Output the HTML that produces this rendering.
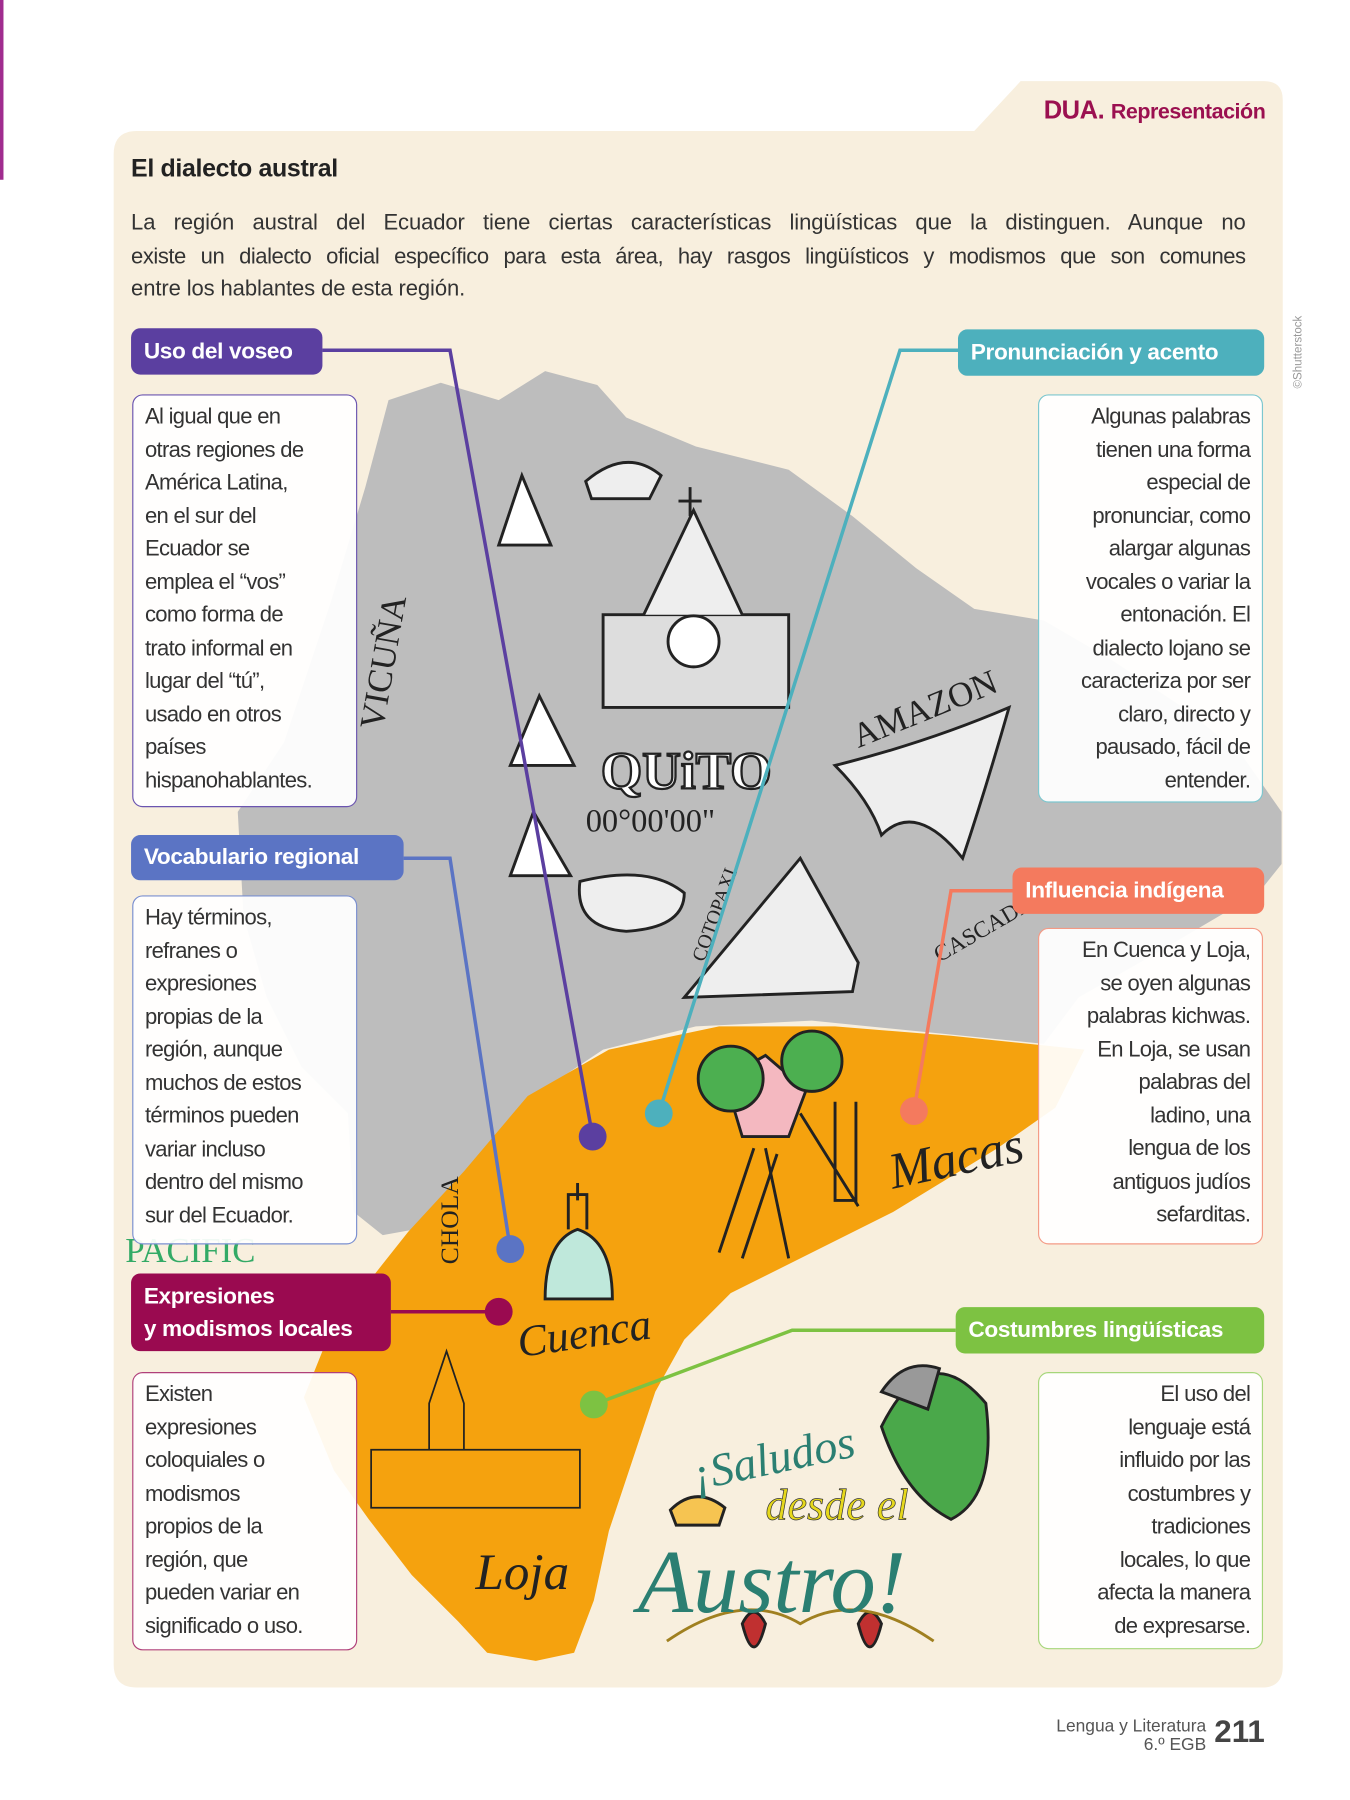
<!DOCTYPE html>
<html><head><meta charset="utf-8"><style>
*{margin:0;padding:0;box-sizing:border-box}
body{width:1350px;height:1800px;background:#fff;overflow:hidden;font-family:"Liberation Sans",sans-serif}
#w{position:absolute;left:0;top:0;width:1164px;height:1552px;transform:scale(1.1598);transform-origin:0 0}
.a{position:absolute}
.lbl{position:absolute;color:#fff;font-weight:bold;font-size:19.5px;border-radius:8px;padding:0 11px;display:flex;align-items:center;letter-spacing:-0.3px}
.box{position:absolute;background:rgba(255,255,255,.93);border:1.3px solid;border-radius:9px;font-size:19px;line-height:28.5px;color:#333;padding:5px 10px;white-space:nowrap;letter-spacing:-0.6px}
.r{text-align:right}
.pl{font-size:19px;line-height:28.5px;color:#333;text-align:justify;text-align-last:justify;width:961px;white-space:nowrap;letter-spacing:-0.1px}
</style></head><body><div id="w">
<div class="a" style="left:0;top:0;width:3px;height:155px;background:#a02c8f"></div>
<svg class="a" style="left:0;top:0" width="1164" height="1552">
<path d="M118 113 H840 L880 70 H1090 Q1106 70 1106 86 V1437 Q1106 1455 1088 1455 H118 Q98 1455 98 1435 V133 Q98 113 118 113Z" fill="#f8efde"/>
<path d="M205 700 L245 640 L285 520 L315 420 L335 345 L380 330 L430 345 L470 320 L515 332 L540 360 L600 385 L680 405 L735 445 L790 490 L840 525 L900 535 L960 570 L1020 610 L1070 650 L1105 700 L1105 745 L1085 770 L1000 820 L930 860 L900 900 L800 890 L700 880 L600 885 L520 905 L460 945 L420 1000 L385 1055 L330 1065 L305 1045 L300 960 L260 920 L230 860 L210 790Z" fill="#bdbdbd"/>
<path d="M455 945 L525 905 L620 885 L720 885 L820 893 L935 905 L910 955 L860 990 L770 1045 L690 1085 L630 1115 L590 1155 L565 1200 L545 1260 L525 1320 L512 1380 L495 1425 L462 1432 L420 1425 L395 1398 L355 1358 L318 1310 L288 1268 L262 1205 L280 1160 L318 1105 L352 1062 L400 1010Z" fill="#f5a20e"/>
<g fill="none" stroke="#222" stroke-width="2.5">
<path d="M430 470 L450 410 L475 470Z" fill="#fff"/>
<path d="M505 415 Q540 385 570 410 L560 430 L510 430Z" fill="#eee"/>
<path d="M520 610 V530 H680 V610Z" fill="#ddd"/>
<path d="M555 530 L598 440 L640 530" fill="#eee"/>
<circle cx="598" cy="553" r="22" fill="#fff"/>
<path d="M595 420 V445 M585 432 H605"/>
<path d="M590 860 L690 740 L740 830 L735 855Z" fill="#eee"/>
<path d="M440 755 L460 700 L492 755Z" fill="#fff"/>
<path d="M440 660 L465 600 L495 660Z" fill="#fff"/>
<path d="M500 760 Q560 745 590 770 Q590 800 540 803 Q495 800 500 760Z" fill="#eee"/>
<path d="M720 660 Q800 640 870 610 Q850 680 830 740 Q790 690 760 720 Q750 690 720 660Z" fill="#eee"/>
<path d="M470 1120 Q470 1070 498 1060 Q528 1070 528 1120Z" fill="#bfe8db"/>
<path d="M490 1060 V1030 H506 V1060 M498 1020 V1035"/>
<path d="M625 930 L660 910 L695 940 L680 980 L640 980Z" fill="#f4b8c0"/>
<path d="M660 990 L680 1085 M690 960 L740 1040"/>
<path d="M620 1080 L650 990 M640 1085 L670 995"/>
<path d="M720 950 V1035 H738 V950"/>
<circle cx="630" cy="930" r="28" fill="#4caf50" stroke="#222"/>
<circle cx="700" cy="915" r="26" fill="#4caf50" stroke="#222"/>
<path d="M320 1300 V1250 H500 V1300Z" stroke="#222" stroke-width="1.5"/>
<path d="M370 1250 V1210 L385 1165 L400 1210 V1250" stroke-width="1.5"/>
<path d="M760 1230 Q800 1150 850 1210 Q860 1290 820 1310 Q780 1290 760 1230Z" fill="#4aa84a"/>
<path d="M760 1200 Q780 1170 810 1180 L800 1215Z" fill="#999"/>
<path d="M578 1302 Q600 1280 625 1300 L620 1315 L583 1315Z" fill="#f6c451"/>
<path d="M640 1400 Q650 1440 660 1400 Q650 1380 640 1400Z M740 1400 Q750 1440 760 1400 Q750 1380 740 1400Z" fill="#c03030"/>
<path d="M575 1415 Q640 1370 690 1400 Q740 1370 805 1415" stroke="#a08020"/>
</g>
<g font-family="Liberation Serif,serif" fill="#222">
<text x="518" y="680" font-size="46" font-weight="bold" fill="#fff" stroke="#222" stroke-width="2">QUiTO</text>
<text x="505" y="717" font-size="28">00°00'00"</text>
<text x="740" y="645" font-size="30" transform="rotate(-22 740 645)">AMAZON</text>
<text x="770" y="1025" font-size="44" font-style="italic" transform="rotate(-12 770 1025)">Macas</text>
<text x="448" y="1170" font-size="38" font-style="italic" transform="rotate(-8 448 1170)">Cuenca</text>
<text x="410" y="1370" font-size="44" font-style="italic">Loja</text>
<text x="600" y="1285" font-size="40" font-style="italic" fill="#2b7f72" transform="rotate(-12 600 1285)">¡Saludos</text>
<text x="660" y="1310" font-size="38" font-style="italic" fill="#e6d81c" stroke="#333" stroke-width=".6">desde el</text>
<text x="550" y="1390" font-size="78" font-style="italic" fill="#2b7f72">Austro!</text>
<text x="395" y="1090" font-size="22" transform="rotate(-90 395 1090)">CHOLA</text>
<text x="330" y="630" font-size="30" transform="rotate(-80 330 630)">VICUÑA</text>
<text x="607" y="830" font-size="17" transform="rotate(-70 607 830)">COTOPAXI</text>
<text x="810" y="830" font-size="20" transform="rotate(-30 810 830)">CASCADA</text>
<text x="108" y="1088" font-size="30" fill="#3a6">PACIFIC</text>
</g>
<g fill="none" stroke-width="3">
<path d="M278 302 H388 L511 980" stroke="#5b3fa0"/>
<path d="M826 302 H776 L568 960" stroke="#4db0bd"/>
<path d="M348 740 H388 L440 1077" stroke="#5b74c4"/>
<path d="M337 1131 H430" stroke="#9a0a50"/>
<path d="M873 768 H820 L788 958" stroke="#f47a5e"/>
<path d="M824 1147 H683 L512 1211" stroke="#7dc242"/>
</g>
<circle cx="511" cy="980" r="12" fill="#5b3fa0"/>
<circle cx="568" cy="960" r="12" fill="#4db0bd"/>
<circle cx="440" cy="1077" r="12" fill="#5b74c4"/>
<circle cx="430" cy="1131" r="12" fill="#9a0a50"/>
<circle cx="788" cy="958" r="12" fill="#f47a5e"/>
<circle cx="512" cy="1211" r="12" fill="#7dc242"/>
<text x="1122" y="335" font-size="10" fill="#999" transform="rotate(-90 1122 335)" font-family="Liberation Sans">©Shutterstock</text>
</svg>
<div class="a" style="right:73px;top:82px;font-size:22px;font-weight:bold;color:#9b1050;letter-spacing:-0.4px">DUA. <span style="font-size:18.5px">Representación</span></div>
<div class="a" style="left:113px;top:133px;font-size:21.5px;font-weight:bold;color:#222;letter-spacing:-0.3px">El dialecto austral</div>
<div class="a" style="left:113px;top:179px">
<div class="pl">La región austral del Ecuador tiene ciertas características lingüísticas que la distinguen. Aunque no</div>
<div class="pl" style="letter-spacing:-0.4px">existe un dialecto oficial específico para esta área, hay rasgos lingüísticos y modismos que son comunes</div>
<div class="pl" style="text-align-last:left">entre los hablantes de esta región.</div>
</div>

<div class="lbl" style="left:113px;top:283px;width:165px;height:40px;background:#5b3fa0">Uso del voseo</div>
<div class="box" style="left:114px;top:340px;width:194px;height:356px;border-color:#6b55b0">Al igual que en<br>otras regiones de<br>América Latina,<br>en el sur del<br>Ecuador se<br>emplea el “vos”<br>como forma de<br>trato informal en<br>lugar del “tú”,<br>usado en otros<br>países<br>hispanohablantes.</div>

<div class="lbl" style="left:113px;top:720px;width:235px;height:39px;background:#5b74c4">Vocabulario regional</div>
<div class="box" style="left:114px;top:772px;width:194px;height:301px;border-color:#7a8fd0">Hay términos,<br>refranes o<br>expresiones<br>propias de la<br>región, aunque<br>muchos de estos<br>términos pueden<br>variar incluso<br>dentro del mismo<br>sur del Ecuador.</div>

<div class="lbl" style="left:113px;top:1098px;width:224px;height:67px;background:#9a0a50;line-height:28px">Expresiones<br>y modismos locales</div>
<div class="box" style="left:114px;top:1183px;width:194px;height:240px;border-color:#b0407a">Existen<br>expresiones<br>coloquiales o<br>modismos<br>propios de la<br>región, que<br>pueden variar en<br>significado o uso.</div>

<div class="lbl" style="left:826px;top:284px;width:264px;height:40px;background:#4db0bd">Pronunciación y acento</div>
<div class="box r" style="left:895px;top:340px;width:194px;height:352px;border-color:#7cc7cf">Algunas palabras<br>tienen una forma<br>especial de<br>pronunciar, como<br>alargar algunas<br>vocales o variar la<br>entonación. El<br>dialecto lojano se<br>caracteriza por ser<br>claro, directo y<br>pausado, fácil de<br>entender.</div>

<div class="lbl" style="left:873px;top:748px;width:217px;height:40px;background:#f47a5e">Influencia indígena</div>
<div class="box r" style="left:895px;top:800px;width:194px;height:273px;border-color:#f49a85">En Cuenca y Loja,<br>se oyen algunas<br>palabras kichwas.<br>En Loja, se usan<br>palabras del<br>ladino, una<br>lengua de los<br>antiguos judíos<br>sefarditas.</div>

<div class="lbl" style="left:824px;top:1127px;width:266px;height:40px;background:#7dc242">Costumbres lingüísticas</div>
<div class="box r" style="left:895px;top:1183px;width:194px;height:239px;border-color:#a6d67a">El uso del<br>lenguaje está<br>influido por las<br>costumbres y<br>tradiciones<br>locales, lo que<br>afecta la manera<br>de expresarse.</div>

<div class="a" style="left:860px;top:1481px;width:180px;text-align:right;font-size:15px;line-height:16px;color:#555">Lengua y Literatura<br>6.º EGB</div>
<div class="a" style="left:1047px;top:1478px;font-size:27px;font-weight:bold;color:#444">211</div>
</div></body></html>
